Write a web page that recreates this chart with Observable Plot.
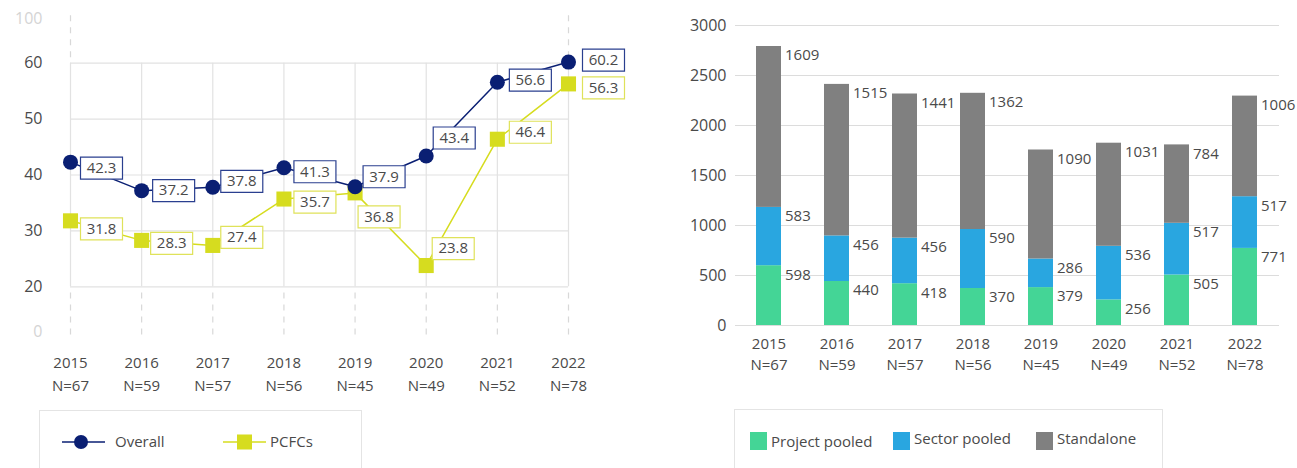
<!DOCTYPE html>
<html>
<head>
<meta charset="utf-8">
<script src="https://cdn.jsdelivr.net/npm/d3@7"></script>
<script src="https://cdn.jsdelivr.net/npm/@observablehq/plot@0.6"></script>
<style>
  body { margin: 0; background: #fff; font-family: "Open Sans", sans-serif; color: #4a4a4a; }
  #wrap { position: relative; width: 1297px; height: 468px; overflow: hidden; }
  #left { position: absolute; left: 0; top: 0; }
  #right { position: absolute; left: 660px; top: 0; }
  .legend { position: absolute; border: 1.5px solid #e4e4e4; box-sizing: border-box; background: #fff; }
  .legend svg { position: absolute; left: 0; top: 0; overflow: visible; }
</style>
</head>
<body>
<div id="wrap">
  <div id="left"></div>
  <div id="right"></div>
  <div class="legend" id="legendLeft" style="left:39px; top:410px; width:323px; height:80px;"></div>
  <div class="legend" id="legendRight" style="left:734px; top:409px; width:429px; height:80px;"></div>
</div>
<script>
// ---- data ----
const years = [2015, 2016, 2017, 2018, 2019, 2020, 2021, 2022];
const sampleSizes = [67, 59, 57, 56, 45, 49, 52, 78];

// share of respondents (%), left panel
const overall = [42.3, 37.2, 37.8, 41.3, 37.9, 43.4, 56.6, 60.2];
const pcfcs   = [31.8, 28.3, 27.4, 35.7, 36.8, 23.8, 46.4, 56.3];

// counts by structure, right panel (stacked bottom to top)
const projectPooled = [598, 440, 418, 370, 379, 256, 505, 771];
const sectorPooled  = [583, 456, 456, 590, 286, 536, 517, 517];
const standalone    = [1609, 1515, 1441, 1362, 1090, 1031, 784, 1006];

const lineSeries = ["Overall", "PCFCs"];
const stackSeries = ["Project pooled", "Sector pooled", "Standalone"];

// left axis: the 20–60 band is drawn to scale, 0 and 100 sit past a break
const leftTicks = [20, 30, 40, 50, 60];
const breakLabels = ["0", "100"];
const rightTicks = [0, 500, 1000, 1500, 2000, 2500, 3000];

// ---- styling ----
const navy = "#0a1f73";
const navyBorder = "#2a3f8f";
const lime = "#d6dc1f";
const limeBorder = "#dfe25a";
const stackColors = ["#44d596", "#29a6e0", "#808080"];
const textColor = "#4a4a4a";
const gridColor = "#e2e2e2";
const font = "'Open Sans', sans-serif";

const xLabel = (y, i) => `${y}\nN=${sampleSizes[i]}`;

// ---- left panel: lines with boxed value labels ----
const yLo = 12, yHi = 68;   // where the break labels sit on the y scale
const overallRows = years.map((year, i) => ({year, value: overall[i]}));
const pcfcRows = years.map((year, i) => ({year, value: pcfcs[i]}));

// a fixed-size rectangle used as the background box of each value label
const labelBox = { draw(context) { context.rect(-21, -11, 42, 22); } };

// box offsets (left edge from the point, vertical shift) so boxes clear the lines
const overallNudge = [[10, 6], [11, 0], [8, -6], [10, 4], [8, -10], [7, -18], [12, -2], [14, -2]];
const pcfcNudge    = [[10, 8], [9, 3], [8, -8], [10, 3], [3, 24], [6, -17], [12, -7], [14, 4]];

function valueLabels(rows, nudges, border) {
  return rows.flatMap((row, i) => {
    const [dx, dy] = nudges[i];
    return [
      Plot.dot([row], {x: "year", y: "value", symbol: labelBox, fill: "white", stroke: border, strokeWidth: 1.2, dx: dx + 21, dy}),
      Plot.text([row], {x: "year", y: "value", text: d => d.value.toFixed(1), dx: dx + 21, dy, fill: textColor, fontSize: 15})
    ];
  });
}

const left = Plot.plot({
  width: 650,
  height: 400,
  marginLeft: 70,
  marginRight: 82,
  marginTop: 18,
  marginBottom: 69,
  style: {fontFamily: font, fontSize: "15px", color: textColor, background: "transparent", overflow: "visible"},
  x: {type: "linear", domain: [2015, 2022], label: null},
  y: {type: "linear", domain: [yLo, yHi], label: null},
  marks: [
    Plot.ruleY(leftTicks, {x1: 2015, x2: 2022, stroke: gridColor, strokeWidth: 1.2}),
    Plot.ruleX(years, {y1: 20, y2: 60, stroke: gridColor, strokeWidth: 1.2}),
    Plot.ruleX(years, {y1: 20 - 1.1, y2: yLo - 1.1, stroke: "#d8d8d8", strokeWidth: 1.2, strokeDasharray: "6,6"}),
    Plot.ruleX([2015, 2022], {y1: yHi + 0.5, y2: 60 + 0.9, stroke: "#d8d8d8", strokeWidth: 1.2, strokeDasharray: "6,6"}),
    Plot.axisY(leftTicks, {tickSize: 0, tickPadding: 28, fontSize: 16, fill: textColor, label: null}),
    Plot.text([yLo, yHi], {frameAnchor: "left", y: d => d, text: (d, i) => breakLabels[i], dx: -28, textAnchor: "end", fontSize: 16, fill: "#d4d4d4"}),
    Plot.axisX(years, {tickSize: 0, tickPadding: 21, tickFormat: xLabel, lineHeight: 1.5, fontSize: 15, fill: textColor, label: null}),
    Plot.line(pcfcRows, {x: "year", y: "value", stroke: lime, strokeWidth: 1.5}),
    Plot.dot(pcfcRows, {x: "year", y: "value", symbol: "square", r: 8.5, fill: lime}),
    Plot.line(overallRows, {x: "year", y: "value", stroke: navy, strokeWidth: 1.5}),
    Plot.dot(overallRows, {x: "year", y: "value", r: 7.5, fill: navy}),
    ...valueLabels(pcfcRows, pcfcNudge, limeBorder),
    ...valueLabels(overallRows, overallNudge, navyBorder)
  ]
});
document.getElementById("left").append(left);

// ---- right panel: stacked bars ----
const stackValues = [projectPooled, sectorPooled, standalone];
const stackRows = stackSeries.flatMap((type, s) =>
  years.map((year, i) => ({year: String(year), type, value: stackValues[s][i]}))
);
const yearKeys = years.map(String);

const right = Plot.plot({
  width: 637,
  height: 400,
  marginLeft: 75,
  marginRight: 18,
  marginTop: 25,
  marginBottom: 75,
  style: {fontFamily: font, fontSize: "15px", color: textColor, background: "transparent", overflow: "visible"},
  x: {type: "band", domain: yearKeys, paddingInner: 0.632, paddingOuter: 0.316, label: null},
  y: {domain: [0, 3000], label: null},
  color: {domain: stackSeries, range: stackColors},
  marks: [
    Plot.gridY(rightTicks, {stroke: "#dcdcdc", strokeOpacity: 1, strokeWidth: 1.2}),
    Plot.axisY(rightTicks, {tickSize: 0, tickPadding: 9, tickFormat: d => String(d), fontSize: 16, fill: textColor, label: null}),
    Plot.axisX(yearKeys, {tickSize: 0, tickPadding: 9, tickFormat: (d, i) => xLabel(d, i), lineHeight: 1.4, fontSize: 15, fill: textColor, label: null}),
    Plot.barY(stackRows, Plot.stackY({x: "year", y: "value", z: "type", order: stackSeries, fill: "type"})),
    Plot.text(stackRows, Plot.stackY2({x: "year", y: "value", z: "type", order: stackSeries, text: d => String(d.value), textAnchor: "start", dx: 16, dy: 9, fill: textColor, fontSize: 15}))
  ]
});
document.getElementById("right").append(right);

// ---- legends ----
function legendSvg(el) {
  return d3.select(el).append("svg").attr("width", el.clientWidth).attr("height", 60)
    .style("font-family", font).style("font-size", "15px");
}

{
  const svg = legendSvg(document.getElementById("legendLeft"));
  const cy = 31;
  // Overall
  svg.append("line").attr("x1", 22).attr("x2", 65).attr("y1", cy).attr("y2", cy).attr("stroke", navy).attr("stroke-width", 1.5);
  svg.append("circle").attr("cx", 41).attr("cy", cy).attr("r", 7).attr("fill", navy);
  svg.append("text").attr("x", 75).attr("y", cy).attr("dy", "0.35em").attr("fill", textColor).text(lineSeries[0]);
  // PCFCs
  svg.append("line").attr("x1", 183).attr("x2", 226).attr("y1", cy).attr("y2", cy).attr("stroke", lime).attr("stroke-width", 1.5);
  svg.append("rect").attr("x", 197).attr("y", cy - 7.5).attr("width", 15).attr("height", 15).attr("fill", lime);
  svg.append("text").attr("x", 230).attr("y", cy).attr("dy", "0.35em").attr("fill", textColor).text(lineSeries[1]);
}

{
  const svg = legendSvg(document.getElementById("legendRight"));
  const items = [
    {x: 15, ty: 32},
    {x: 158, ty: 29},
    {x: 301, ty: 29}
  ];
  stackSeries.forEach((name, i) => {
    const it = items[i];
    svg.append("rect").attr("x", it.x).attr("y", 22).attr("width", 17).attr("height", 18).attr("fill", stackColors[i]);
    svg.append("text").attr("x", it.x + 21).attr("y", it.ty).attr("dy", "0.35em").attr("fill", textColor).text(name);
  });
}
</script>
</body>
</html>
